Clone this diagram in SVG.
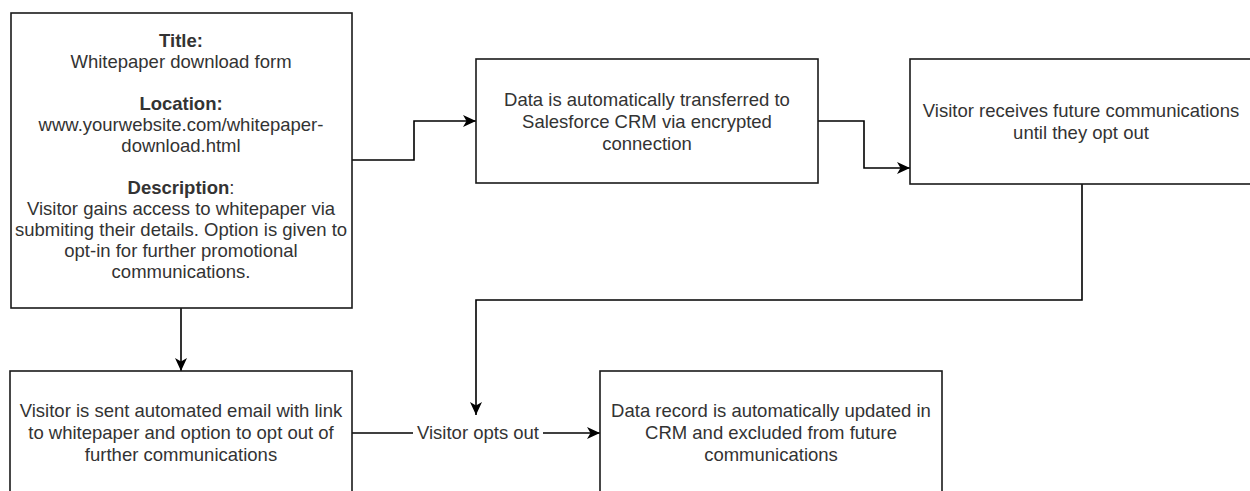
<svg xmlns="http://www.w3.org/2000/svg" width="1250" height="491" viewBox="0 0 1250 491">
<defs>
<marker id="arr" markerUnits="userSpaceOnUse" markerWidth="14" markerHeight="12" viewBox="0 0 14 12" refX="13" refY="6" orient="auto">
<path d="M0,0 L13,6 L0,12 L3.5,6 Z" fill="#000"/>
</marker>
<style>
.box{fill:#fff;stroke:#1a1a1a;stroke-width:1.6}
.t{font-family:"Liberation Sans",Arial,sans-serif;font-size:18.5px;fill:#333;text-anchor:middle}
.b{font-weight:bold}
.c{fill:none;stroke:#000;stroke-width:1.6}
</style>
</defs>
<rect width="1250" height="491" fill="#fff"/>
<g id="connectors">
<path class="c" d="M352,160 H414 V121 H476" marker-end="url(#arr)"/>
<path class="c" d="M818,121 H864 V168 H910" marker-end="url(#arr)"/>
<path class="c" d="M1082,184 V300 H476 V415" marker-end="url(#arr)"/>
<path class="c" d="M181,308 V371" marker-end="url(#arr)"/>
<path class="c" d="M352,433 H600" marker-end="url(#arr)"/>
<rect x="413" y="423" width="130" height="20" fill="#fff"/>
<text class="t" x="478" y="439">Visitor opts out</text>
</g>
<g id="node-form">
<rect class="box" x="11" y="13" width="341" height="295"/>
<text class="t b" x="181" y="47">Title:</text>
<text class="t" x="181" y="68">Whitepaper download form</text>
<text class="t b" x="181" y="110">Location:</text>
<text class="t" x="181" y="131">www.yourwebsite.com/whitepaper-</text>
<text class="t" x="181" y="152">download.html</text>
<text class="t" x="181" y="194"><tspan class="b">Description</tspan>:</text>
<text class="t" x="181" y="215">Visitor gains access to whitepaper via</text>
<text class="t" x="181" y="236">submiting their details. Option is given to</text>
<text class="t" x="181" y="257">opt-in for further promotional</text>
<text class="t" x="181" y="278">communications.</text>
</g>
<g id="node-transfer">
<rect class="box" x="476" y="59" width="342" height="124"/>
<text class="t" x="647" y="106">Data is automatically transferred to</text>
<text class="t" x="647" y="128">Salesforce CRM via encrypted</text>
<text class="t" x="647" y="150">connection</text>
</g>
<g id="node-receives">
<rect class="box" x="910" y="59" width="342" height="125"/>
<text class="t" x="1081" y="117">Visitor receives future communications</text>
<text class="t" x="1081" y="139">until they opt out</text>
</g>
<g id="node-email">
<rect class="box" x="10" y="371" width="342" height="125"/>
<text class="t" x="181" y="417">Visitor is sent automated email with link</text>
<text class="t" x="181" y="439">to whitepaper and option to opt out of</text>
<text class="t" x="181" y="461">further communications</text>
</g>
<g id="node-updated">
<rect class="box" x="600" y="371" width="342" height="125"/>
<text class="t" x="771" y="417">Data record is automatically updated in</text>
<text class="t" x="771" y="439">CRM and excluded from future</text>
<text class="t" x="771" y="461">communications</text>
</g>
</svg>
